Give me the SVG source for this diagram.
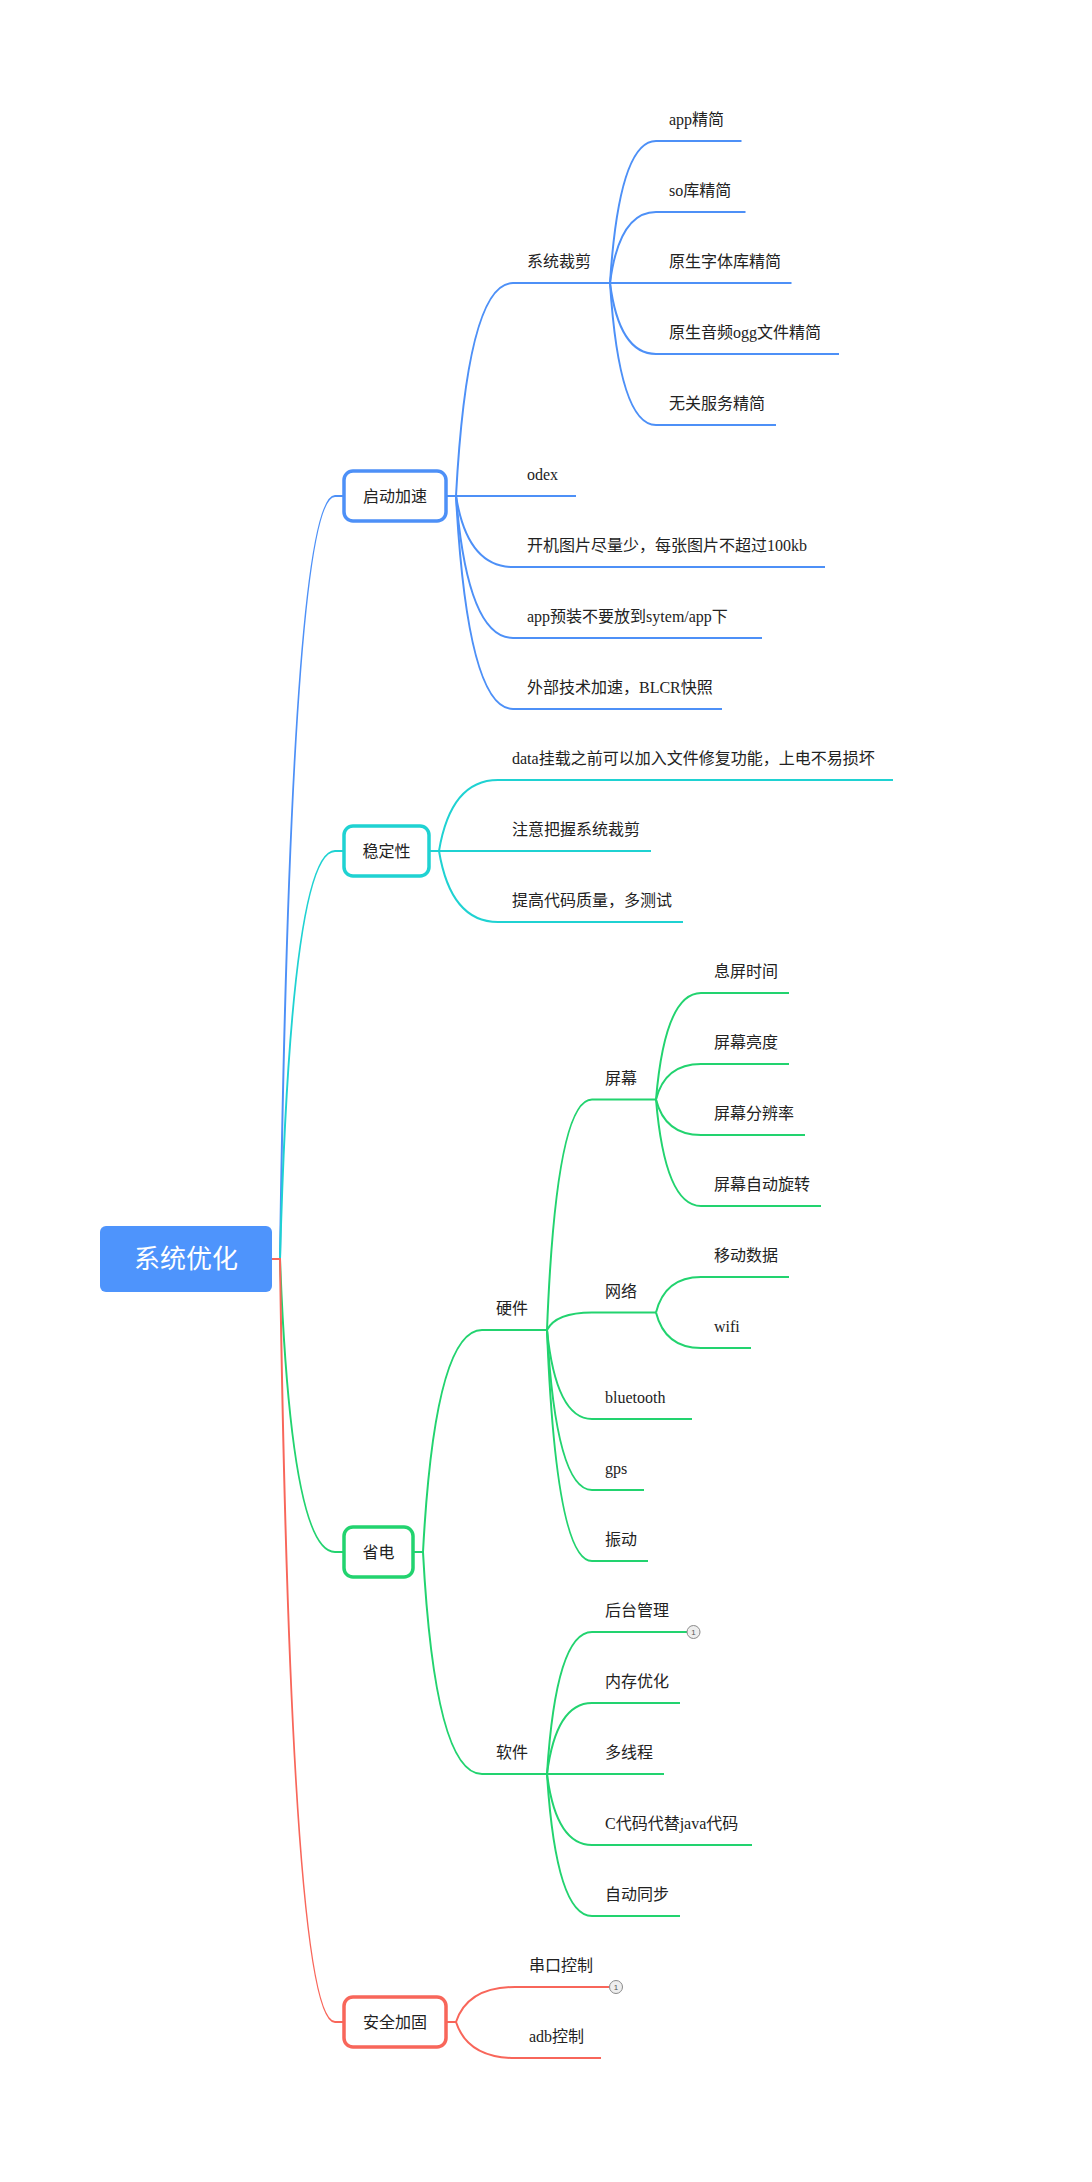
<svg xmlns="http://www.w3.org/2000/svg" width="1092" height="2182" viewBox="0 0 1092 2182">
<style>
text{font-family:"Liberation Serif","Noto Sans CJK SC",serif;font-size:16px;fill:#222}
.c path{fill:none;stroke-width:2}
.b{stroke:#4d90f7}.cy{stroke:#1fd2d2}.g{stroke:#22d36f}.r{stroke:#f8665a}
.box{fill:#fff;stroke-width:3.5}
.ctr{text-anchor:middle}
.ico{fill:#eeeeee;stroke:#8a8a8a;stroke-width:1}
.icot{font-family:"Liberation Sans",sans-serif;font-size:8px;fill:#555;text-anchor:middle}
</style>
<rect width="1092" height="2182" fill="#fff"/>
<g id="connectors" class="c">
<g class="b">
<path d="M272,1259 L280,1259 Q291,496 335,496 L343,496"/>
<path d="M447,496 L456,496 Q467.4,283 513,283 L610,283"/>
<path d="M447,496 L576,496"/>
<path d="M447,496 L456,496 Q467.4,567 513,567 L825,567"/>
<path d="M447,496 L456,496 Q467.4,638 513,638 L762,638"/>
<path d="M447,496 L456,496 Q467.4,709 513,709 L722,709"/>
<path d="M610,283 Q619.2,141 656,141 L741.5,141"/>
<path d="M610,283 Q619.2,212 656,212 L745.5,212"/>
<path d="M610,283 L791.5,283"/>
<path d="M610,283 Q619.2,354 656,354 L839,354"/>
<path d="M610,283 Q619.2,425 656,425 L776,425"/>
</g>
<g class="cy">
<path d="M272,1259 L280,1259 Q291,851 335,851 L343,851"/>
<path d="M430,851 L439,851 Q450.8,780 498,780 L893,780"/>
<path d="M430,851 L651,851"/>
<path d="M430,851 L439,851 Q450.8,922 498,922 L683,922"/>
</g>
<g class="g">
<path d="M272,1259 L280,1259 Q291,1552 335,1552 L343,1552"/>
<path d="M414,1552 L423,1552 Q434.8,1330 482,1330 L547,1330"/>
<path d="M414,1552 L423,1552 Q434.8,1774 482,1774 L547,1774"/>
<path d="M547,1330 Q556,1099.5 592,1099.5 L656,1099.5"/>
<path d="M547,1330 Q556,1312.5 592,1312.5 L656,1312.5"/>
<path d="M547,1330 Q556,1419 592,1419 L692,1419"/>
<path d="M547,1330 Q556,1490 592,1490 L644,1490"/>
<path d="M547,1330 Q556,1561 592,1561 L648,1561"/>
<path d="M656,1099.5 Q665,993 701,993 L789,993"/>
<path d="M656,1099.5 Q665,1064 701,1064 L789,1064"/>
<path d="M656,1099.5 Q665,1135 701,1135 L805,1135"/>
<path d="M656,1099.5 Q665,1206 701,1206 L821,1206"/>
<path d="M656,1312.5 Q665,1277 701,1277 L789,1277"/>
<path d="M656,1312.5 Q665,1348 701,1348 L751,1348"/>
<path d="M547,1774 Q556,1632 592,1632 L687,1632"/>
<path d="M547,1774 Q556,1703 592,1703 L680,1703"/>
<path d="M547,1774 L664,1774"/>
<path d="M547,1774 Q556,1845 592,1845 L752,1845"/>
<path d="M547,1774 Q556,1916 592,1916 L680,1916"/>
</g>
<g class="r">
<path d="M272,1259 L280,1259 Q291,2022 335,2022 L343,2022"/>
<path d="M447,2022 L456,2022 Q467.8,1987 515,1987 L609,1987"/>
<path d="M447,2022 L456,2022 Q467.8,2058 515,2058 L601,2058"/>
</g>
</g>
<g id="root">
<rect x="100" y="1226" width="172" height="66" rx="6" fill="#4e94fc"/>
<text x="186" y="1268" class="ctr" style="font-size:26px;fill:#fff">系统优化</text>
</g>
<g id="n-qidong">
<rect class="box" x="344" y="471" width="102" height="50" rx="9" stroke="#4d90f7"/>
<text x="395" y="502" class="ctr">启动加速</text>
</g>
<g id="n-wending">
<rect class="box" x="344" y="826" width="85" height="50" rx="9" stroke="#1fd2d2"/>
<text x="386.5" y="857" class="ctr">稳定性</text>
</g>
<g id="n-shengdian">
<rect class="box" x="344" y="1527" width="69" height="50" rx="9" stroke="#22d36f"/>
<text x="378.5" y="1558" class="ctr">省电</text>
</g>
<g id="n-anquan">
<rect class="box" x="344" y="1997" width="102" height="50" rx="9" stroke="#f8665a"/>
<text x="395" y="2028" class="ctr">安全加固</text>
</g>
<g id="n-xitongcaijian"><text x="527" y="267">系统裁剪</text></g>
<g id="n-app"><text x="669" y="125">app精简</text></g>
<g id="n-so"><text x="669" y="196">so库精简</text></g>
<g id="n-font"><text x="669" y="267">原生字体库精简</text></g>
<g id="n-ogg"><text x="669" y="338">原生音频ogg文件精简</text></g>
<g id="n-service"><text x="669" y="409">无关服务精简</text></g>
<g id="n-odex"><text x="527" y="480">odex</text></g>
<g id="n-boot"><text x="527" y="551">开机图片尽量少，每张图片不超过100kb</text></g>
<g id="n-preinstall"><text x="527" y="622">app预装不要放到sytem/app下</text></g>
<g id="n-blcr"><text x="527" y="693">外部技术加速，BLCR快照</text></g>
<g id="n-data"><text x="512" y="764">data挂载之前可以加入文件修复功能，上电不易损坏</text></g>
<g id="n-attention"><text x="512" y="835">注意把握系统裁剪</text></g>
<g id="n-quality"><text x="512" y="906">提高代码质量，多测试</text></g>
<g id="n-hardware"><text x="496" y="1314">硬件</text></g>
<g id="n-screen"><text x="605" y="1083.5">屏幕</text></g>
<g id="n-s1"><text x="714" y="977">息屏时间</text></g>
<g id="n-s2"><text x="714" y="1048">屏幕亮度</text></g>
<g id="n-s3"><text x="714" y="1119">屏幕分辨率</text></g>
<g id="n-s4"><text x="714" y="1190">屏幕自动旋转</text></g>
<g id="n-network"><text x="605" y="1296.5">网络</text></g>
<g id="n-mobile"><text x="714" y="1261">移动数据</text></g>
<g id="n-wifi"><text x="714" y="1332">wifi</text></g>
<g id="n-bt"><text x="605" y="1403">bluetooth</text></g>
<g id="n-gps"><text x="605" y="1474">gps</text></g>
<g id="n-vibrate"><text x="605" y="1545">振动</text></g>
<g id="n-software"><text x="496" y="1758">软件</text></g>
<g id="n-bg"><text x="605" y="1616">后台管理</text><circle class="ico" cx="693.5" cy="1632" r="6.5"/><text class="icot" x="693.5" y="1635">1</text></g>
<g id="n-mem"><text x="605" y="1687">内存优化</text></g>
<g id="n-thread"><text x="605" y="1758">多线程</text></g>
<g id="n-ccode"><text x="605" y="1829">C代码代替java代码</text></g>
<g id="n-sync"><text x="605" y="1900">自动同步</text></g>
<g id="n-serial"><text x="529" y="1971">串口控制</text><circle class="ico" cx="616" cy="1987" r="6.5"/><text class="icot" x="616" y="1990">1</text></g>
<g id="n-adb"><text x="529" y="2042">adb控制</text></g>
</svg>
